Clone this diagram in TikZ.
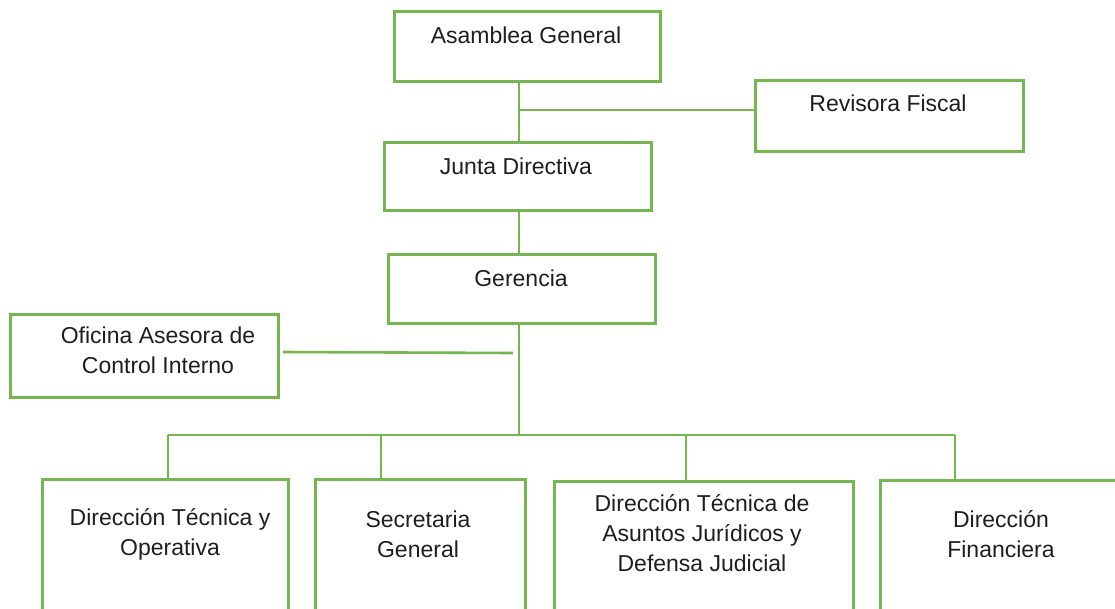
\documentclass[tikz,border=0pt]{standalone}
\usepackage{fontspec}
\setmainfont{Liberation Sans}
\definecolor{boxgreen}{RGB}{118,182,80}
\definecolor{txtgray}{RGB}{30,30,30}
\begin{document}
\begin{tikzpicture}[x=1pt,y=-1pt,
  box/.style={draw=boxgreen, line width=2.6pt, anchor=north west, inner sep=0pt},
  txt/.style={font=\fontsize{23}{30}\selectfont, text=txtgray, align=center, inner sep=0pt},
  link/.style={draw=boxgreen, line width=2.6pt}]
\useasboundingbox (0,0) rectangle (1115,608);
% boxes
\node[box, minimum width=266pt, minimum height=70pt] (ag) at (393,10) {};
\node[box, minimum width=268pt, minimum height=71pt] (rf) at (754,79) {};
\node[box, minimum width=267pt, minimum height=68pt] (jd) at (383,141) {};
\node[box, minimum width=267pt, minimum height=69pt] (ge) at (387,253) {};
\node[box, minimum width=268pt, minimum height=83pt] (oc) at (9,313) {};
\node[box, minimum width=246pt, minimum height=140pt] (d1) at (41,478) {};
\node[box, minimum width=210pt, minimum height=140pt] (d2) at (314,478) {};
\node[box, minimum width=299pt, minimum height=140pt] (d3) at (553,480) {};
\node[box, minimum width=250pt, minimum height=140pt] (d4) at (879,479) {};
% texts
\node[txt] (tag) at (526,35) {Asamblea General};
\node[txt] (trf) at (888,103) {Revisora Fiscal};
\node[txt] (tjd) at (516,166) {Junta Directiva};
\node[txt] (tge) at (521,278) {Gerencia};
\node[txt] (toc) at (158,350) {Oficina Asesora de\\Control Interno};
\node[txt] (td1) at (170,534) {Dirección Técnica y\\Operativa};
\node[txt] (td2) at (418,534) {Secretaria\\General};
\node[txt] (td3) at (702,533) {Dirección Técnica de\\Asuntos Jurídicos y\\Defensa Judicial};
\node[txt] (td4) at (1001,534) {Dirección\\Financiera};
% connectors
\coordinate (rfj) at (519,110);
\coordinate (ocj) at (513,353);
\coordinate (ocs) at (283,352);
\coordinate (bus) at (519,435);
\path[link] (ag.south -| rfj) -- (jd.north -| rfj);
\path[link] (rfj) -- (rfj -| rf.west);
\path[link] (jd.south -| rfj) -- (ge.north -| rfj);
\path[link] (ge.south -| rfj) -- (bus);
\path[link] (ocs) -- (ocj);
\path[link] (bus -| 168,0) -- (bus -| 955,0);
\path[link] (bus -| 168,0) -- (d1.north -| 168,0);
\path[link] (bus -| 381,0) -- (d2.north -| 381,0);
\path[link] (bus -| 686,0) -- (d3.north -| 686,0);
\path[link] (bus -| 955,0) -- (d4.north -| 955,0);
\end{tikzpicture}
\end{document}
